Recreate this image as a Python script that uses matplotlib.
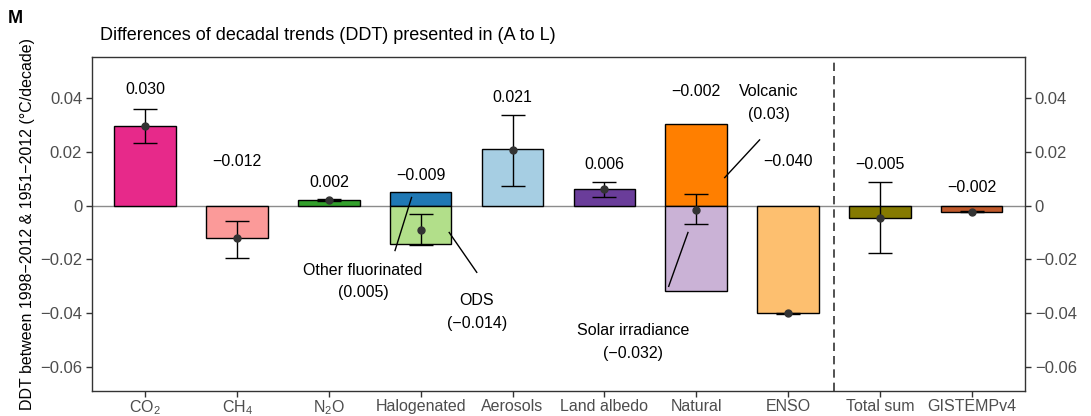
import numpy as np
import matplotlib
matplotlib.use("Agg")
import matplotlib.pyplot as plt

plt.rcParams['font.family'] = ['Liberation Sans', 'DejaVu Sans']
plt.rcParams['mathtext.fontset'] = 'custom'
plt.rcParams['mathtext.rm'] = 'Liberation Sans'
plt.rcParams['mathtext.it'] = 'Liberation Sans'

# data (degC/decade)
categories = [r'CO$_2$', r'CH$_4$', r'N$_2$O', 'Halogenated', 'Aerosols',
              'Land albedo', 'Natural', 'ENSO', 'Total sum', 'GISTEMPv4']
totals = [0.030, -0.012, 0.002, -0.009, 0.021, 0.006, -0.002, -0.040, -0.005, -0.002]
points = [0.0295, -0.0122, 0.0022, -0.0092, 0.0206, 0.0061, -0.0015, -0.0400, -0.0046, -0.0023]
err_lo = [0.0233, -0.0193, 0.0018, -0.0148, 0.0074, 0.0033, -0.0070, -0.0402, -0.0178, -0.0025]
err_hi = [0.0360, -0.0056, 0.0025, -0.0030, 0.0337, 0.0089, 0.0044, -0.0398, 0.0086, -0.0021]

# stacked components: (category index, value, colour, label)
components = [
    (0, 0.0295, '#E7298A', None),
    (1, -0.0122, '#FB9A99', None),
    (2, 0.0022, '#33A02C', None),
    (3, 0.0052, '#1F78B4', 'Other fluorinated\n(0.005)'),
    (3, -0.0142, '#B2DF8A', 'ODS\n(\u22120.014)'),
    (4, 0.0211, '#A6CEE3', None),
    (5, 0.0063, '#6A3D9A', None),
    (6, 0.0303, '#FF7F00', 'Volcanic\n(0.03)'),
    (6, -0.0319, '#CAB2D6', 'Solar irradiance\n(\u22120.032)'),
    (7, -0.0400, '#FDBF6F', None),
    (8, -0.0045, '#857A00', None),
    (9, -0.0023, '#C0592B', None),
]

fig = plt.figure(figsize=(10.91, 4.16), dpi=100)
ax = fig.add_axes([0.0843, 0.0600, 0.8552, 0.8030])

x = np.arange(1, len(categories) + 1)
width = 0.67

ax.axhline(0, color='#8C8C8C', lw=1, zorder=1)
for i, v, c, _ in components:
    ax.bar(x[i], v, width=width, color=c, edgecolor='black', linewidth=1, zorder=2)

pts = np.array(points)
yerr = np.vstack([pts - np.array(err_lo), np.array(err_hi) - pts])
ax.errorbar(x, pts, yerr=yerr, fmt='none', ecolor='black', elinewidth=1,
            capsize=8.5, capthick=1, zorder=3)
ax.plot(x, pts, 'o', color='#333333', ms=5, zorder=4)

# value labels above each bar
label_y = [0.0433, 0.0163, 0.0085, 0.0111, 0.0400, 0.0152, 0.0422, 0.0163, 0.0152, 0.0067]
for xi, ly, t in zip(x, label_y, totals):
    s = f'{t:.3f}'.replace('-', '\u2212')
    ax.text(xi, ly, s, ha='center', va='center', fontsize=11.5, color='black')

# component annotations: text position and leader line (data coords)
notes = {
    'Other fluorinated\n(0.005)': ((3.37, -0.0282), (3.90, 0.0030), (3.72, -0.0167)),
    'ODS\n(\u22120.014)': ((4.61, -0.0394), (4.31, -0.0100), (4.61, -0.0248)),
    'Solar irradiance\n(\u22120.032)': ((6.31, -0.0506), (6.91, -0.0100), (6.70, -0.0300)),
    'Volcanic\n(0.03)': ((7.79, 0.0380), (7.69, 0.0244), (7.31, 0.0104)),
}
for _, _, _, lab in components:
    if lab is None:
        continue
    (tx, ty), (ax0, ay0), (ax1, ay1) = notes[lab]
    ax.text(tx, ty, lab, ha='center', va='center', fontsize=11.5, linespacing=1.65)
    ax.plot([ax0, ax1], [ay0, ay1], color='black', lw=1, zorder=5)

ax.axvline(8.5, color='#333333', lw=1.2, ls=(0, (5, 3)), zorder=1)

ax.set_xlim(0.42, 10.58)
ax.set_ylim(-0.0689, 0.0552)
yt = [-0.06, -0.04, -0.02, 0, 0.02, 0.04]
ylabs = ['\u22120.06', '\u22120.04', '\u22120.02', '0', '0.02', '0.04']
ax.set_yticks(yt)
ax.set_yticklabels(ylabs)
ax.set_xticks(x)
ax.set_xticklabels(categories)
ax.tick_params(axis='both', colors='#333333', labelcolor='#4D4D4D', labelsize=12,
               length=4, width=1)
ax.tick_params(axis='x', pad=1.5, labelsize=11.5)
ax.tick_params(axis='y', right=True, labelright=True, pad=3)
for sp in ax.spines.values():
    sp.set_color('#333333')
    sp.set_linewidth(1)

ax.set_ylabel('DDT between 1998\u22122012 & 1951\u22122012 (\u00b0C/decade)', fontsize=11.5,
              labelpad=4)
fig.text(0.0917, 0.915, 'Differences of decadal trends (DDT) presented in (A to L)',
         fontsize=13, ha='left', va='center')
fig.text(0.007, 0.955, 'M', fontsize=13, fontweight='bold', ha='left', va='center')

fig.savefig('out.png', dpi=100)
